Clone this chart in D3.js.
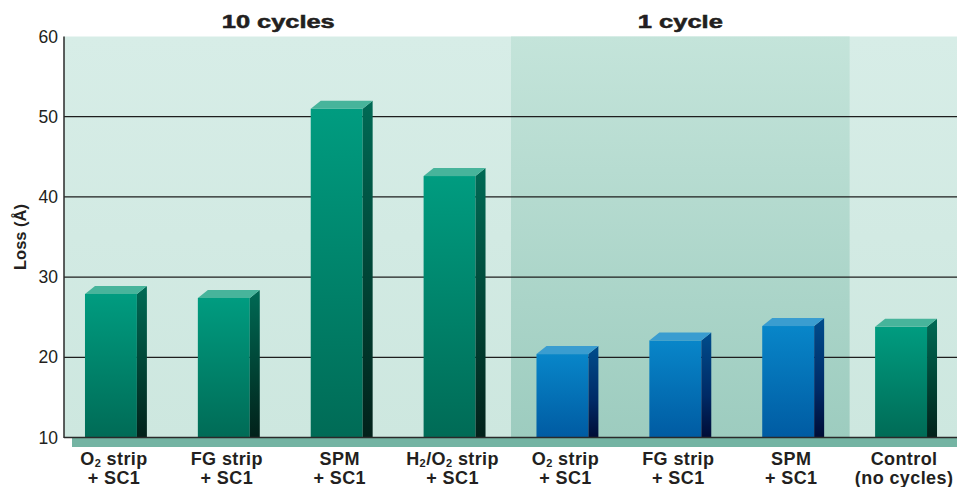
<!DOCTYPE html>
<html><head><meta charset="utf-8">
<script src="https://cdn.jsdelivr.net/npm/d3@7"></script>
<style>
html,body{margin:0;padding:0;background:#fff;}
svg{display:block;font-family:"Liberation Sans",Arial,Helvetica,sans-serif;}
</style></head>
<body>
<svg id="chart" width="957" height="487"></svg>
<script>
// ---- data ----
const categories = ["O2 strip + SC1","FG strip + SC1","SPM + SC1","H2/O2 strip + SC1",
                    "O2 strip + SC1 (1)","FG strip + SC1 (1)","SPM + SC1 (1)","Control"];
const labelLine1 = [["O",{sub:"2"}," strip"],["FG strip"],["SPM"],["H",{sub:"2"},"/O",{sub:"2"}," strip"],
                    ["O",{sub:"2"}," strip"],["FG strip"],["SPM"],["Control"]];
const labelLine2 = ["+ SC1","+ SC1","+ SC1","+ SC1","+ SC1","+ SC1","+ SC1","(no cycles)"];
const lossValues = [27.9, 27.4, 51.0, 42.6, 20.4, 22.1, 23.9, 23.8];
const barGroup   = ["g","g","g","g","b","b","b","g"];
const yTicks = [10, 20, 30, 40, 50, 60];
const groupHeaders = ["10 cycles", "1 cycle"];

(function(){
// ---- layout ----
const svg = d3.select("#chart");
const pLeft = 64, pTop = 36.5, pBottom = 437.5, pRight = 957;
const side = 10, depth = 8;

const x = d3.scaleBand().domain(categories).range([54.5, 957.5]).paddingInner(0.54).paddingOuter(0.27);
const y = d3.scaleLinear().domain([10, 60]).range([pBottom, pTop]);
const bw = x.bandwidth();
const step = x.step();

const defs = svg.append("defs");
function vgrad(id, stops) {
  const g = defs.append("linearGradient").attr("id", id).attr("x1",0).attr("y1",0).attr("x2",0).attr("y2",1);
  stops.forEach(s => g.append("stop").attr("offset", s[0]).attr("stop-color", s[1]));
}
vgrad("bgLight", [[0,"#d7ede7"],[1,"#cde7df"]]);
vgrad("bgShade", [[0,"#c4e4da"],[1,"#9dccbf"]]);
vgrad("gFront", [[0,"#009c80"],[1,"#006b56"]]);
vgrad("gSide",  [[0,"#006a55"],[0.6,"#003f31"],[1,"#02211a"]]);
vgrad("bFront", [[0,"#0886c9"],[1,"#005ba2"]]);
vgrad("bSide",  [[0,"#004d8c"],[0.6,"#002a66"],[1,"#000c36"]]);

const colors = {
  g: {front:"url(#gFront)", side:"url(#gSide)", top:"#47b49b"},
  b: {front:"url(#bFront)", side:"url(#bSide)", top:"#3a9dd0"}
};

// backgrounds
svg.append("rect").attr("x", pLeft).attr("y", pTop).attr("width", pRight-pLeft).attr("height", pBottom-pTop).attr("fill","url(#bgLight)");
const gap = (step - bw - side) / 2;
const shadeX0 = x(categories[4]) - gap;
const shadeX1 = x(categories[6]) + bw + side + gap;
svg.append("rect").attr("x", shadeX0).attr("y", pTop).attr("width", shadeX1 - shadeX0).attr("height", pBottom-pTop).attr("fill","url(#bgShade)");

// gridlines
svg.append("g").selectAll("line").data(yTicks.filter(t => t > 10 && t < 60)).join("line")
  .attr("x1", pLeft).attr("x2", pRight).attr("y1", d => y(d)).attr("y2", d => y(d))
  .attr("stroke", "#1e1e1e").attr("stroke-width", 1.2);

// bottom band
svg.append("rect").attr("x", 72).attr("y", pBottom).attr("width", pRight-72).attr("height", 9.5).attr("fill", "#74b4a3");

// bars
const bars = svg.append("g").selectAll("g").data(lossValues).join("g");
bars.append("rect").attr("x", (d,i) => x(categories[i])).attr("y", d => y(d))
  .attr("width", bw).attr("height", d => pBottom - y(d)).attr("fill", (d,i) => colors[barGroup[i]].front);
bars.append("path").attr("d", (d,i) => {
    const x0 = x(categories[i]) + bw, y0 = y(d);
    return `M${x0},${y0} L${x0+side},${y0-depth} L${x0+side},${pBottom} L${x0},${pBottom} Z`;
  }).attr("fill", (d,i) => colors[barGroup[i]].side);
bars.append("path").attr("d", (d,i) => {
    const x0 = x(categories[i]), y0 = y(d);
    return `M${x0},${y0} L${x0+side},${y0-depth} L${x0+bw+side},${y0-depth} L${x0+bw},${y0} Z`;
  }).attr("fill", (d,i) => colors[barGroup[i]].top);

// axes lines
svg.append("line").attr("x1", pLeft).attr("x2", pLeft).attr("y1", pTop).attr("y2", pBottom+0.5).attr("stroke","#2a2a2a").attr("stroke-width",1.5);
svg.append("line").attr("x1", pLeft).attr("x2", pRight).attr("y1", pBottom).attr("y2", pBottom).attr("stroke","#2a2a2a").attr("stroke-width",1.5);

// y axis ticks via d3 axis
const yAxis = svg.append("g").attr("transform", `translate(${pLeft},0)`)
  .call(d3.axisLeft(y).tickValues(yTicks).tickSize(0).tickPadding(6));
yAxis.select(".domain").remove();
yAxis.selectAll("text").attr("font-size", 17.5).attr("fill", "#231f20")
  .attr("font-family", "'Liberation Sans',Arial,sans-serif");

// y label
svg.append("text").attr("transform", "translate(26,237) rotate(-90)").attr("text-anchor","middle")
  .attr("font-size", 16.5).attr("font-weight","bold").attr("fill","#231f20").text("Loss (Å)");

// x labels
const xl = svg.append("g");
categories.forEach((c, i) => {
  const cx = x(c) + bw/2 + 3;
  const t1 = xl.append("text").attr("x", cx).attr("y", 465).attr("text-anchor","middle")
    .attr("font-size", 18).attr("letter-spacing", 0.4).attr("font-weight","bold").attr("fill","#231f20");
  let shifted = 0;
  labelLine1[i].forEach(part => {
    if (typeof part === "string") { t1.append("tspan").attr("dy", -shifted).text(part); shifted = 0; }
    else { t1.append("tspan").attr("font-size", 11).attr("dy", 2 - shifted).text(part.sub); shifted = 2; }
  });
  xl.append("text").attr("x", cx).attr("y", 484).attr("text-anchor","middle")
    .attr("font-size", 18).attr("letter-spacing", 0.4).attr("font-weight","bold").attr("fill","#231f20").text(labelLine2[i]);
});

// group headers
const h1x = (x(categories[0]) + x(categories[3]) + bw) / 2 - 2;
const h2x = (x(categories[4]) + x(categories[6]) + bw + side) / 2;
svg.append("text").attr("x", h1x).attr("y", 28).attr("text-anchor","middle")
  .attr("font-size", 17.5).attr("font-weight","bold").attr("fill","#231f20")
  .attr("stroke","#231f20").attr("stroke-width",0.5)
  .attr("textLength", 113).attr("lengthAdjust","spacingAndGlyphs").text(groupHeaders[0]);
svg.append("text").attr("x", h2x).attr("y", 28).attr("text-anchor","middle")
  .attr("font-size", 17.5).attr("font-weight","bold").attr("fill","#231f20")
  .attr("stroke","#231f20").attr("stroke-width",0.5)
  .attr("textLength", 85).attr("lengthAdjust","spacingAndGlyphs").text(groupHeaders[1]);
})();
</script>
</body></html>
